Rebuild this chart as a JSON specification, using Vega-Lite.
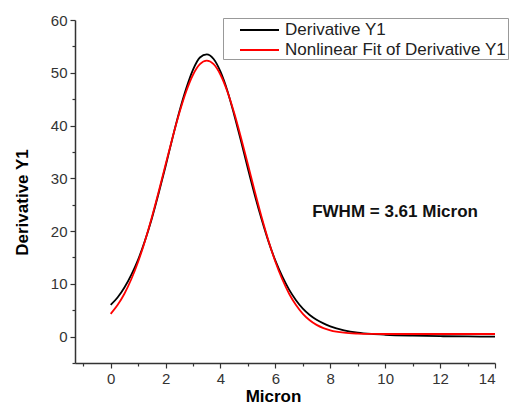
{
  "$schema": "https://vega.github.io/schema/vega-lite/v6.json",
  "width": 420,
  "height": 343,
  "autosize": {"type": "none"},
  "padding": {"left": 75, "top": 20, "right": 17, "bottom": 44},
  "background": "white",
  "config": {
    "view": {"stroke": null},
    "font": "Liberation Sans",
    "axis": {"grid": false, "domainColor": "#333", "tickColor": "#333", "labelColor": "#333", "labelFontSize": 15, "titleFontSize": 17, "titleFontWeight": "bold", "titleColor": "#000", "domainWidth": 1.5, "tickWidth": 1.2}
  },
  "resolve": {"axis": {"x": "independent", "y": "independent"}},
  "datasets": {
    "curves": [
      {"x": 0, "y": 6.0, "s": "Derivative Y1"},
      {"x": 0.25, "y": 7.4, "s": "Derivative Y1"},
      {"x": 0.5, "y": 9.3, "s": "Derivative Y1"},
      {"x": 0.75, "y": 11.7, "s": "Derivative Y1"},
      {"x": 1.0, "y": 14.6, "s": "Derivative Y1"},
      {"x": 1.25, "y": 18.2, "s": "Derivative Y1"},
      {"x": 1.5, "y": 22.4, "s": "Derivative Y1"},
      {"x": 1.75, "y": 27.2, "s": "Derivative Y1"},
      {"x": 2.0, "y": 32.3, "s": "Derivative Y1"},
      {"x": 2.25, "y": 37.6, "s": "Derivative Y1"},
      {"x": 2.5, "y": 42.6, "s": "Derivative Y1"},
      {"x": 2.75, "y": 47.0, "s": "Derivative Y1"},
      {"x": 3.0, "y": 50.6, "s": "Derivative Y1"},
      {"x": 3.25, "y": 52.9, "s": "Derivative Y1"},
      {"x": 3.5, "y": 53.5, "s": "Derivative Y1"},
      {"x": 3.75, "y": 52.6, "s": "Derivative Y1"},
      {"x": 4.0, "y": 50.2, "s": "Derivative Y1"},
      {"x": 4.25, "y": 46.6, "s": "Derivative Y1"},
      {"x": 4.5, "y": 42.0, "s": "Derivative Y1"},
      {"x": 4.75, "y": 37.0, "s": "Derivative Y1"},
      {"x": 5.0, "y": 31.8, "s": "Derivative Y1"},
      {"x": 5.25, "y": 26.8, "s": "Derivative Y1"},
      {"x": 5.5, "y": 22.2, "s": "Derivative Y1"},
      {"x": 5.75, "y": 18.0, "s": "Derivative Y1"},
      {"x": 6.0, "y": 14.4, "s": "Derivative Y1"},
      {"x": 6.25, "y": 11.4, "s": "Derivative Y1"},
      {"x": 6.5, "y": 8.9, "s": "Derivative Y1"},
      {"x": 6.75, "y": 6.9, "s": "Derivative Y1"},
      {"x": 7.0, "y": 5.3, "s": "Derivative Y1"},
      {"x": 7.25, "y": 4.1, "s": "Derivative Y1"},
      {"x": 7.5, "y": 3.2, "s": "Derivative Y1"},
      {"x": 7.75, "y": 2.5, "s": "Derivative Y1"},
      {"x": 8.0, "y": 1.95, "s": "Derivative Y1"},
      {"x": 8.5, "y": 1.2, "s": "Derivative Y1"},
      {"x": 9.0, "y": 0.75, "s": "Derivative Y1"},
      {"x": 9.5, "y": 0.5, "s": "Derivative Y1"},
      {"x": 10.0, "y": 0.35, "s": "Derivative Y1"},
      {"x": 11.0, "y": 0.18, "s": "Derivative Y1"},
      {"x": 12.0, "y": 0.08, "s": "Derivative Y1"},
      {"x": 13.0, "y": 0.03, "s": "Derivative Y1"},
      {"x": 14.0, "y": 0.0, "s": "Derivative Y1"},
      {"x": 0, "y": 4.32, "s": "Nonlinear Fit of Derivative Y1"},
      {"x": 0.25, "y": 5.98, "s": "Nonlinear Fit of Derivative Y1"},
      {"x": 0.5, "y": 8.13, "s": "Nonlinear Fit of Derivative Y1"},
      {"x": 0.75, "y": 10.87, "s": "Nonlinear Fit of Derivative Y1"},
      {"x": 1.0, "y": 14.2, "s": "Nonlinear Fit of Derivative Y1"},
      {"x": 1.25, "y": 18.14, "s": "Nonlinear Fit of Derivative Y1"},
      {"x": 1.5, "y": 22.62, "s": "Nonlinear Fit of Derivative Y1"},
      {"x": 1.75, "y": 27.5, "s": "Nonlinear Fit of Derivative Y1"},
      {"x": 2.0, "y": 32.6, "s": "Nonlinear Fit of Derivative Y1"},
      {"x": 2.25, "y": 37.65, "s": "Nonlinear Fit of Derivative Y1"},
      {"x": 2.5, "y": 42.37, "s": "Nonlinear Fit of Derivative Y1"},
      {"x": 2.75, "y": 46.46, "s": "Nonlinear Fit of Derivative Y1"},
      {"x": 3.0, "y": 49.62, "s": "Nonlinear Fit of Derivative Y1"},
      {"x": 3.25, "y": 51.62, "s": "Nonlinear Fit of Derivative Y1"},
      {"x": 3.5, "y": 52.3, "s": "Nonlinear Fit of Derivative Y1"},
      {"x": 3.75, "y": 51.62, "s": "Nonlinear Fit of Derivative Y1"},
      {"x": 4.0, "y": 49.62, "s": "Nonlinear Fit of Derivative Y1"},
      {"x": 4.25, "y": 46.46, "s": "Nonlinear Fit of Derivative Y1"},
      {"x": 4.5, "y": 42.37, "s": "Nonlinear Fit of Derivative Y1"},
      {"x": 4.75, "y": 37.65, "s": "Nonlinear Fit of Derivative Y1"},
      {"x": 5.0, "y": 32.6, "s": "Nonlinear Fit of Derivative Y1"},
      {"x": 5.25, "y": 27.5, "s": "Nonlinear Fit of Derivative Y1"},
      {"x": 5.5, "y": 22.62, "s": "Nonlinear Fit of Derivative Y1"},
      {"x": 5.75, "y": 18.14, "s": "Nonlinear Fit of Derivative Y1"},
      {"x": 6.0, "y": 14.2, "s": "Nonlinear Fit of Derivative Y1"},
      {"x": 6.25, "y": 10.87, "s": "Nonlinear Fit of Derivative Y1"},
      {"x": 6.5, "y": 8.13, "s": "Nonlinear Fit of Derivative Y1"},
      {"x": 6.75, "y": 5.98, "s": "Nonlinear Fit of Derivative Y1"},
      {"x": 7.0, "y": 4.32, "s": "Nonlinear Fit of Derivative Y1"},
      {"x": 7.25, "y": 3.1, "s": "Nonlinear Fit of Derivative Y1"},
      {"x": 7.5, "y": 2.22, "s": "Nonlinear Fit of Derivative Y1"},
      {"x": 7.75, "y": 1.61, "s": "Nonlinear Fit of Derivative Y1"},
      {"x": 8.0, "y": 1.2, "s": "Nonlinear Fit of Derivative Y1"},
      {"x": 8.5, "y": 0.75, "s": "Nonlinear Fit of Derivative Y1"},
      {"x": 9.0, "y": 0.58, "s": "Nonlinear Fit of Derivative Y1"},
      {"x": 9.5, "y": 0.52, "s": "Nonlinear Fit of Derivative Y1"},
      {"x": 10.0, "y": 0.5, "s": "Nonlinear Fit of Derivative Y1"},
      {"x": 12.0, "y": 0.5, "s": "Nonlinear Fit of Derivative Y1"},
      {"x": 14.0, "y": 0.5, "s": "Nonlinear Fit of Derivative Y1"}
    ],
    "note": [{"x": 10.36, "y": 23.7, "label": "FWHM = 3.61 Micron"}]
  },
  "layer": [
    {
      "data": {"name": "curves"},
      "mark": {"type": "line", "strokeWidth": 1.8, "interpolate": "monotone"},
      "encoding": {
        "x": {"field": "x", "type": "quantitative", "scale": {"domain": [-1.3, 14], "nice": false, "zero": false},
          "axis": {"orient": "bottom", "title": "Micron", "values": [0,2,4,6,8,10,12,14], "tickSize": 5, "labelPadding": 3, "labelFontSize": 15, "titlePadding": 2, "titleX": 198}},
        "y": {"field": "y", "type": "quantitative", "scale": {"domain": [-5, 60], "nice": false, "zero": false},
          "axis": {"orient": "left", "title": "Derivative Y1", "values": [0,10,20,30,40,50,60], "tickSize": 5, "labelPadding": 3, "labelFontSize": 15, "titlePadding": 19, "titleY": 182}},
        "color": {"field": "s", "type": "nominal", "sort": ["Derivative Y1", "Nonlinear Fit of Derivative Y1"],
          "scale": {"domain": ["Derivative Y1", "Nonlinear Fit of Derivative Y1"], "range": ["#000000", "#ff0000"]},
          "legend": {"title": null, "orient": "none", "legendX": 148, "legendY": -2, "symbolType": "M0.5,0H4.4", "symbolSize": 400, "symbolStrokeWidth": 2, "labelFontSize": 17, "labelLimit": 0, "labelColor": "#222", "strokeColor": "#999", "padding": 1, "fillColor": "white", "rowPadding": 1, "labelOffset": 39}}
      }
    },
    {
      "data": {"name": "note"},
      "mark": {"type": "text", "fontSize": 17, "fontWeight": "bold", "align": "center", "baseline": "middle", "color": "#111"},
      "encoding": {
        "x": {"field": "x", "type": "quantitative",
          "axis": {"orient": "bottom", "title": null, "values": [-1,1,3,5,7,9,11,13], "labels": false, "domain": false, "tickSize": 3}},
        "y": {"field": "y", "type": "quantitative",
          "axis": {"orient": "left", "title": null, "values": [-5,5,15,25,35,45,55], "labels": false, "domain": false, "tickSize": 3}},
        "text": {"field": "label"}
      }
    }
  ]
}
